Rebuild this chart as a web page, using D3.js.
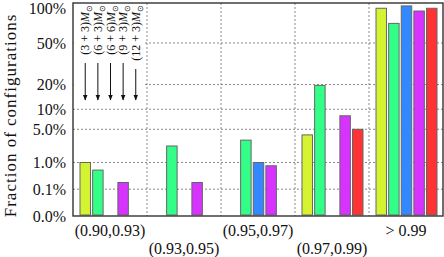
<!DOCTYPE html>
<html>
<head>
<meta charset="utf-8">
<script src="https://cdn.jsdelivr.net/npm/d3@7"></script>
<style>
  body { margin: 0; background: #fff; }
  svg { display: block; font-family: "Liberation Serif", serif; }
</style>
</head>
<body>
<div id="chart"></div>
<script>
// data
var groups = ["(0.90,0.93)", "(0.93,0.95)", "(0.95,0.97)", "(0.97,0.99)", "> 0.99"];
var seriesNames = ["(3 + 3)", "(6 + 3)", "(6 + 6)", "(9 + 3)", "(12 + 3)"];
var seriesColors = ["#d4f431", "#33ff88", "#3388ff", "#d633ff", "#ff3333"];
var s33 = [1.0, 0, 0, 4.0, 92];
var s63 = [0.6, 2.45, 3.2, 19.6, 71.5];
var s66 = [0, 0, 1.0, 0, 95.5];
var s93 = [0.21, 0.21, 0.81, 8.1, 88];
var s123 = [0, 0, 0, 5.0, 92];
var seriesValues = [s33, s63, s66, s93, s123];
var yTicks = [0, 0.1, 1, 5, 10, 20, 50, 100];
var yTickLabels = ["0.0%", "0.1%", "1.0%", "5.0%", "10%", "20%", "50%", "100%"];

var svgWidth = 444, svgHeight = 257;
var margin = { top: 3, right: 1, bottom: 41, left: 73 };
var width = svgWidth - margin.left - margin.right;
var height = svgHeight - margin.top - margin.bottom;

var svg = d3.select("#chart").append("svg")
  .attr("width", svgWidth)
  .attr("height", svgHeight);

var chart = svg.append("g")
  .attr("transform", `translate(${margin.left}, ${margin.top})`);

// scales
var x0 = d3.scaleBand().domain(groups).range([0, width]);
var x1 = d3.scaleBand().domain(seriesNames).range([7, 68]).paddingInner(0.17);
var y = d3.scalePow().exponent(0.3).domain([0, 100]).range([height, 0]);

// grid
chart.append("g")
  .selectAll("line")
  .data(yTicks.filter(d => d > 0 && d < 100))
  .enter().append("line")
  .attr("x1", 0).attr("x2", width)
  .attr("y1", d => y(d)).attr("y2", d => y(d))
  .attr("stroke", "#888").attr("stroke-dasharray", "2,2");

chart.append("g")
  .selectAll("line")
  .data(groups.slice(1))
  .enter().append("line")
  .attr("x1", d => x0(d)).attr("x2", d => x0(d))
  .attr("y1", 0).attr("y2", height)
  .attr("stroke", "#888").attr("stroke-dasharray", "2,2");

// annotation box (hides grid behind the legend)
chart.append("rect")
  .attr("x", 1).attr("y", 1)
  .attr("width", x0.bandwidth() - 3).attr("height", y(10) - 5)
  .attr("fill", "#fff");

// bars
var barData = [];
seriesNames.forEach(function(s, i) {
  groups.forEach(function(g, j) {
    if (seriesValues[i][j] > 0) barData.push({ g: g, s: s, v: seriesValues[i][j], c: seriesColors[i] });
  });
});

chart.append("g")
  .selectAll("rect")
  .data(barData)
  .enter().append("rect")
  .attr("x", d => x0(d.g) + x1(d.s))
  .attr("y", d => y(d.v))
  .attr("width", x1.bandwidth())
  .attr("height", d => y(0) - y(d.v) - 1)
  .attr("fill", d => d.c)
  .attr("stroke", "#666")
  .attr("stroke-width", 1);

// frame
chart.append("rect")
  .attr("x", 0).attr("y", 0)
  .attr("width", width).attr("height", height)
  .attr("fill", "none")
  .attr("stroke", "#333")
  .attr("stroke-width", 1.4);

// y axis
var leftAxis = d3.axisLeft(y)
  .tickValues(yTicks)
  .tickFormat((d, i) => yTickLabels[i])
  .tickSize(0)
  .tickPadding(7);
chart.append("g")
  .call(leftAxis)
  .call(g => g.select(".domain").remove())
  .selectAll("text")
  .attr("font-family", "Liberation Serif, serif")
  .attr("font-size", 16)
  .attr("fill", "#111")
  .attr("dy", d => d === 100 ? "0.68em" : "0.32em");

// x axis labels, staggered
var bottomAxis = d3.axisBottom(x0).tickSize(0).tickPadding(9);
chart.append("g")
  .attr("transform", `translate(0, ${height})`)
  .call(bottomAxis)
  .call(g => g.select(".domain").remove())
  .selectAll("text")
  .attr("font-family", "Liberation Serif, serif")
  .attr("font-size", 16)
  .attr("fill", "#111")
  .attr("dy", (d, i) => i % 2 ? "1.8em" : "0.71em");

// y axis title
svg.append("text")
  .attr("transform", `translate(16, ${margin.top + height / 2 + 6}) rotate(-90)`)
  .attr("text-anchor", "middle")
  .attr("font-size", 17)
  .attr("letter-spacing", 1)
  .attr("fill", "#111")
  .text("Fraction of configurations");

// legend: rotated labels with arrows
svg.append("defs").append("marker")
  .attr("id", "arrow")
  .attr("viewBox", "0 0 10 10")
  .attr("refX", 9).attr("refY", 5)
  .attr("markerWidth", 6).attr("markerHeight", 6)
  .attr("orient", "auto")
  .append("path")
  .attr("d", "M0,1 L10,5 L0,9 Z")
  .attr("fill", "#111");

var legend = chart.append("g")
  .selectAll("g")
  .data(seriesNames)
  .enter().append("g")
  .attr("transform", d => `translate(${x1(d) + x1.bandwidth() / 2}, 0)`);

var legendText = legend.append("text")
  .attr("transform", "translate(0, 2) rotate(-90)")
  .attr("text-anchor", "end")
  .attr("dy", "0.35em")
  .attr("font-size", 12)
  .attr("fill", "#111");
legendText.append("tspan").text(d => d);
legendText.append("tspan").attr("font-style", "italic").text("M");
legendText.append("tspan").attr("font-size", 8).attr("dy", "0.35em").text("⊙");

legend.append("line")
  .attr("x1", 0).attr("x2", 0)
  .attr("y1", (d, i) => i === 4 ? 66 : 60)
  .attr("y2", 97)
  .attr("stroke", "#111")
  .attr("stroke-width", 1)
  .attr("marker-end", "url(#arrow)");
</script>
</body>
</html>
